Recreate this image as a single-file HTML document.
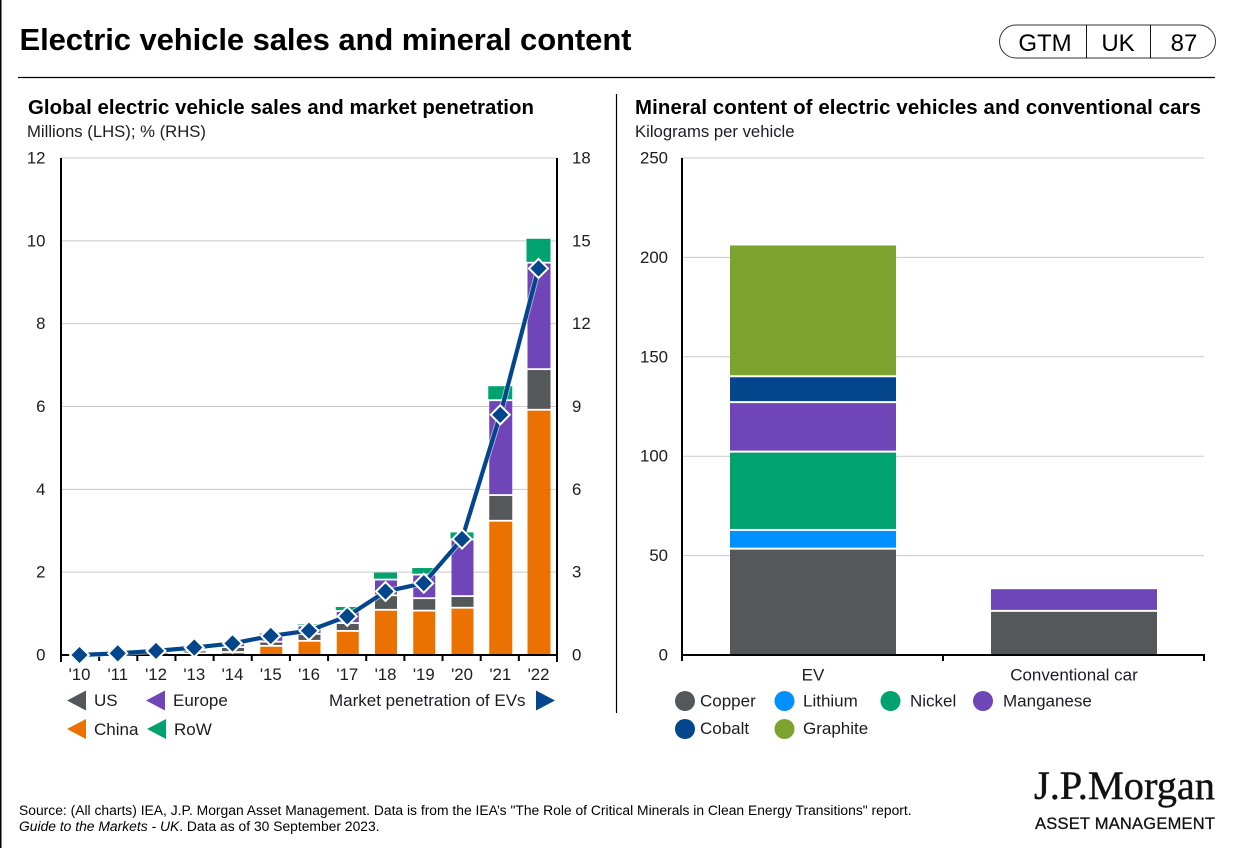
<!DOCTYPE html>
<html lang="en">
<head>
<meta charset="utf-8">
<title>Electric vehicle sales and mineral content</title>
<style>
html,body{margin:0;padding:0;background:#fff;width:1242px;height:848px;overflow:hidden}
svg{display:block;font-family:"Liberation Sans",Arial,sans-serif}
text{fill:#1c1c22}
</style>
</head>
<body>
<svg id="root" xmlns="http://www.w3.org/2000/svg" width="1242" height="848" viewBox="0 0 1242 848">
  <rect x="0" y="0" width="1242" height="848" fill="#fff"/>
  <rect x="0" y="0" width="1.5" height="848" fill="#000"/>
  <text x="19.5" y="50" font-size="31" font-weight="700" style="fill:#000" textLength="612" lengthAdjust="spacing">Electric vehicle sales and mineral content</text>
  <line x1="18" y1="77.5" x2="1215" y2="77.5" stroke="#000" stroke-width="1.2"/>

  <g>
    <rect x="999.5" y="25" width="216" height="33" rx="16.5" fill="#fff" stroke="#333" stroke-width="1"/>
    <line x1="1086.5" y1="25" x2="1086.5" y2="58" stroke="#111" stroke-width="1"/>
    <line x1="1150.5" y1="25" x2="1150.5" y2="58" stroke="#111" stroke-width="1"/>
    <text x="1045" y="51" font-size="24" text-anchor="middle" style="fill:#000">GTM</text>
    <text x="1118" y="51" font-size="24" text-anchor="middle" style="fill:#000">UK</text>
    <text x="1184" y="51" font-size="24" text-anchor="middle" style="fill:#000">87</text>
  </g>

  <text x="28" y="114" font-size="20.4" font-weight="700" style="fill:#000" textLength="506" lengthAdjust="spacing">Global electric vehicle sales and market penetration</text>
  <text x="27" y="137" font-size="16.7">Millions (LHS); % (RHS)</text>
  <text x="635" y="114" font-size="20.4" font-weight="700" style="fill:#000" textLength="566" lengthAdjust="spacing">Mineral content of electric vehicles and conventional cars</text>
  <text x="635" y="137" font-size="16.7">Kilograms per vehicle</text>
  <line x1="616.5" y1="94" x2="616.5" y2="713" stroke="#000" stroke-width="1.2"/>

  <g id="left-chart"></g>
  <g id="right-chart"></g>

  <text x="19" y="815" font-size="13.86" style="fill:#000">Source: (All charts) IEA, J.P. Morgan Asset Management. Data is from the IEA’s "The Role of Critical Minerals in Clean Energy Transitions" report.</text>
  <text x="19" y="831" font-size="13.86" style="fill:#000"><tspan font-style="italic">Guide to the Markets - UK</tspan>. Data as of 30 September 2023.</text>
  <text x="1034" y="799" style="font-family:'Liberation Serif',serif;fill:#111;stroke:#111;stroke-width:0.4" font-size="40" textLength="181" lengthAdjust="spacingAndGlyphs">J.P.Morgan</text>
  <text x="1035" y="829" font-size="16.5" style="fill:#111;stroke:#111;stroke-width:0.3" textLength="180" lengthAdjust="spacing">ASSET MANAGEMENT</text>
</svg>
<script>
// ---------- Left chart data ----------
const years = ["'10","'11","'12","'13","'14","'15","'16","'17","'18","'19","'20","'21","'22"];
const china = [0,0,0,0.01,0.05,0.2,0.32,0.56,1.07,1.05,1.12,3.22,5.9];
const us = [0,0.01,0.03,0.05,0.12,0.1,0.17,0.19,0.35,0.3,0.28,0.62,0.98];
const europe = [0,0.01,0.02,0.03,0.09,0.2,0.2,0.29,0.38,0.57,1.37,2.29,2.57];
const row = [0,0,0,0.01,0.02,0.02,0.05,0.12,0.19,0.18,0.19,0.36,0.6];
const penetration = [0,0.06,0.15,0.27,0.42,0.69,0.88,1.4,2.3,2.6,4.2,8.7,14.0];
const leftTicks = [0,2,4,6,8,10,12];
const rightTicks = [0,3,6,9,12,15,18];
// ---------- Right chart data ----------
const vehicles = ["EV","Conventional car"];
const copper = [53,21.7];
const lithium = [9.4,0];
const nickel = [39.4,0];
const manganese = [24.9,11.4];
const cobalt = [13,0];
const graphite = [66.3,0];
const mineralTicks = [0,50,100,150,200,250];

const NS = 'http://www.w3.org/2000/svg';
const GREY='#55585a', ORANGE='#ec7200', PURPLE='#6f45b8', GREEN='#00a36f', NAVY='#03468c', BLUE='#0090ff', OLIVE='#7da32f', GRID='#c9c9c9';

function make(tag, attrs, parent, txt){
  const el = document.createElementNS(NS, tag);
  for (const k in attrs) el.setAttribute(k, attrs[k]);
  if (txt !== undefined) el.textContent = txt;
  parent.appendChild(el);
  return el;
}
const TOP=158, BASE=655;
const yLeft = v => BASE - v/12*(BASE-TOP);
const yRight = v => BASE - v/18*(BASE-TOP);
const yMin = v => BASE - v/250*(BASE-TOP);
const LX0=61, LX1=557;
const xYear = i => 79.5 + i*38.25;
const RX0=682, RX1=1204;
const xVeh = i => RX0 + 0.5 + (i+0.5)*(RX1-RX0)/vehicles.length;

// ---------- LEFT ----------
const L = document.getElementById('left-chart');
leftTicks.forEach(function(t){
  if (t !== 0) {
    const g = make('line',{x1:LX0,x2:LX1,y1:yLeft(t),y2:yLeft(t),stroke:GRID,'stroke-width':1},L);
    
    
  }
  const lab = make('text',{x:45.5,y:yLeft(t)+5.5,'font-size':16.8,'text-anchor':'end'},L,String(t));
  
  
});
rightTicks.forEach(function(t){
  const lab = make('text',{x:572,y:yRight(t)+5.5,'font-size':16.8},L,String(t));
  
  
});
const stackSeries = [[china,ORANGE,'china'],[us,GREY,'us'],[europe,PURPLE,'europe'],[row,GREEN,'row']];
years.forEach(function(y,i){
  let base = 0;
  const w = i >= 11 ? 24 : 23;
  stackSeries.forEach(function(s,si){
    const v = s[0][i];
    if (v <= 0) return;
    const yT = yLeft(base+v), yB = yLeft(base);
    const h = Math.max(0.5, yB - yT - 1.8*(si===0?0:1));
    const r = make('rect',{x:xYear(i)-w/2+(si===3?0:1),y:yT,width:si===3?w:w-1,height:h,fill:s[1]},L);
    
    
    base += v;
  });
  const lab = make('text',{x:xYear(i),y:680,'font-size':16.8,'text-anchor':'middle'},L,y);
  
  
});
const lAxisY = make('line',{x1:LX0,x2:LX0,y1:TOP,y2:662,stroke:'#000','stroke-width':2},L);


const rAxisY = make('line',{x1:LX1,x2:LX1,y1:TOP,y2:662,stroke:'#000','stroke-width':2},L);


const lAxisX = make('line',{x1:LX0-1,x2:LX1+1,y1:BASE,y2:BASE,stroke:'#000','stroke-width':2},L);


years.forEach(function(y,i){
  if (i === 0) return;
  const tx = LX0 + i*(LX1-LX0)/years.length;
  const t = make('line',{x1:tx,x2:tx,y1:BASE,y2:661,stroke:'#000','stroke-width':2},L);
  
  
});
const ptsStr = penetration.map(function(v,i){ return xYear(i)+','+yRight(v); }).join(' ');
const halo = make('polyline',{points:ptsStr,fill:'none',stroke:'#fff','stroke-opacity':0.55,'stroke-width':6},L);


const pl = make('polyline',{points:ptsStr,fill:'none',stroke:NAVY,'stroke-width':4.2,'stroke-linejoin':'round'},L);


penetration.forEach(function(v,i){
  const cx = xYear(i), cy = yRight(v), d = 9.5;
  const m = make('polygon',{points:(cx-d)+','+cy+' '+cx+','+(cy-d)+' '+(cx+d)+','+cy+' '+cx+','+(cy+d),fill:NAVY,stroke:'#fff','stroke-width':2},L);
  
  
});

// left legend
function tri(px,py,col,name,dir){
  const pts = dir === 'right'
    ? (px)+','+(py-10)+' '+(px+19)+','+py+' '+(px)+','+(py+10)
    : (px+19)+','+(py-10)+' '+(px)+','+py+' '+(px+19)+','+(py+10);
  const p = make('polygon',{points:pts,fill:col},L);
  
  
}
function legText(px,py,txt,parent,name){
  const t = make('text',{x:px,y:py,'font-size':17},parent,txt);
  
  
}
tri(67,700.5,GREY,'legend-swatch-us');
legText(94,706,'US',L,'legend-label-us');
tri(146,700.5,PURPLE,'legend-swatch-europe');
legText(173,706,'Europe',L,'legend-label-europe');
tri(67,729,ORANGE,'legend-swatch-china');
legText(94,735,'China',L,'legend-label-china');
tri(147,729,GREEN,'legend-swatch-row');
legText(174,735,'RoW',L,'legend-label-row');
legText(329,706,'Market penetration of EVs',L,'legend-label-market-penetration');
tri(536,700.5,NAVY,'legend-swatch-market-penetration','right');

// ---------- RIGHT ----------
const R = document.getElementById('right-chart');
mineralTicks.forEach(function(t){
  if (t !== 0) {
    const g = make('line',{x1:RX0,x2:RX1,y1:yMin(t),y2:yMin(t),stroke:GRID,'stroke-width':1},R);
    
    
  }
  const lab = make('text',{x:668,y:yMin(t)+5.5,'font-size':16.8,'text-anchor':'end'},R,String(t));
  
  
});
const mineralSeries = [[copper,GREY],[lithium,BLUE],[nickel,GREEN],[manganese,PURPLE],[cobalt,NAVY],[graphite,OLIVE]];
vehicles.forEach(function(name,i){
  let base = 0;
  mineralSeries.forEach(function(s){
    const v = s[0][i];
    if (v <= 0) return;
    const yT = yMin(base+v), yB = yMin(base);
    const r = make('rect',{x:xVeh(i)-83,y:yT,width:166,height:yB-yT-(base>0?2:0),fill:s[1]},R);
    
    
    base += v;
  });
  const lab = make('text',{x:xVeh(i),y:680.5,'font-size':17,'text-anchor':'middle'},R,name);
  
  
});
const rAxY = make('line',{x1:RX0,x2:RX0,y1:TOP,y2:661,stroke:'#000','stroke-width':2},R);


const rAxX = make('line',{x1:RX0-1,x2:RX1+1,y1:BASE,y2:BASE,stroke:'#000','stroke-width':2},R);


[1,2].forEach(function(k){
  const tx = RX0 + k*(RX1-RX0)/vehicles.length;
  const t = make('line',{x1:tx,x2:tx,y1:BASE,y2:661,stroke:'#000','stroke-width':2},R);
  
  
});
function dot(cx,cy,col,name){
  const c = make('circle',{cx:cx,cy:cy,r:10,fill:col},R);
  
  
}
dot(685,701,GREY,'legend-swatch-copper');
legText(700,706.5,'Copper',R,'legend-label-copper');
dot(784.5,701,BLUE,'legend-swatch-lithium');
legText(803,706.5,'Lithium',R,'legend-label-lithium');
dot(890.5,701,GREEN,'legend-swatch-nickel');
legText(910,706.5,'Nickel',R,'legend-label-nickel');
dot(983,701,PURPLE,'legend-swatch-manganese');
legText(1003,706.5,'Manganese',R,'legend-label-manganese');
dot(685,729,NAVY,'legend-swatch-cobalt');
legText(700,734,'Cobalt',R,'legend-label-cobalt');
dot(784.5,729,OLIVE,'legend-swatch-graphite');
legText(803,734,'Graphite',R,'legend-label-graphite');
</script>
</body>
</html>
